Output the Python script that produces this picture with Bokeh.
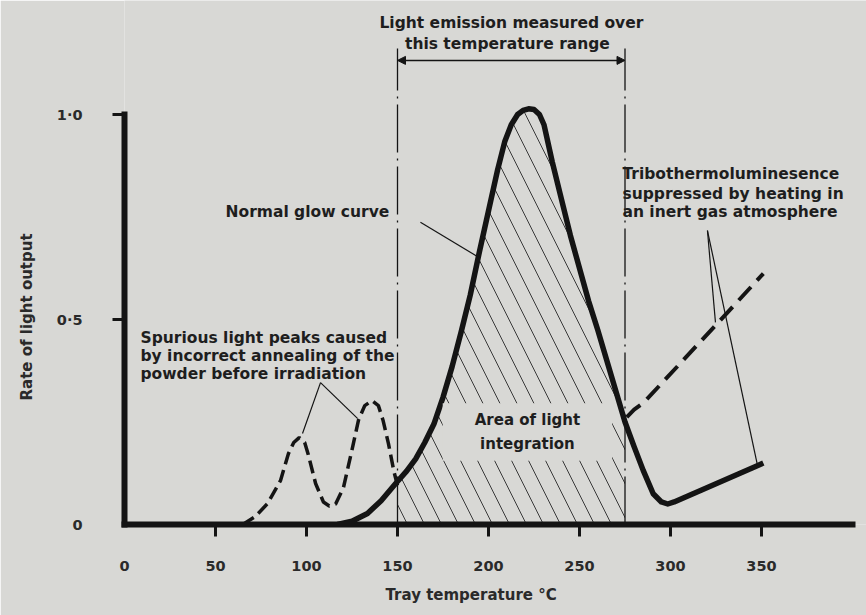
import numpy as np
from bokeh.plotting import figure
from bokeh.models import Range1d, FixedTicker, Label, Arrow, NormalHead, ColumnDataSource, Title
from bokeh.core.properties import value
from bokeh.embed import file_html
from bokeh.resources import INLINE

# ---------------- data ----------------
glow_temp = [117, 125, 133.5, 141, 149, 155, 160, 165, 170, 175, 180, 185, 190, 195, 200,
             205, 209, 212.5, 216, 219, 222, 225, 228, 230.5, 232.5, 235, 240, 245, 250,
             255, 260, 265, 270, 275, 280, 285, 290.5, 295, 298.5, 302, 348, 351]
glow_rate = [0.0, 0.008, 0.027, 0.058, 0.1, 0.13, 0.16, 0.2, 0.245, 0.31, 0.385, 0.47, 0.56,
             0.665, 0.765, 0.865, 0.935, 0.975, 1.0, 1.01, 1.014, 1.012, 1.0, 0.975, 0.935,
             0.885, 0.795, 0.705, 0.625, 0.545, 0.475, 0.4, 0.325, 0.25, 0.19, 0.132, 0.075,
             0.055, 0.05, 0.055, 0.144, 0.15]

spur_temp = [65, 72, 78.6, 85.7, 90.1, 93, 96, 99, 101, 105, 109.3, 112.5, 116, 120.3,
             125.3, 128.6, 132, 136, 139.5, 142, 145, 148, 150]
spur_rate = [0.0, 0.02, 0.051, 0.107, 0.173, 0.2, 0.212, 0.2, 0.17, 0.1, 0.055, 0.045,
             0.05, 0.09, 0.188, 0.255, 0.29, 0.302, 0.29, 0.255, 0.198, 0.13, 0.095]

tribo_temp = [276, 280, 285, 323.6, 351]
tribo_rate = [0.262, 0.28, 0.296, 0.48, 0.612]

range_start, range_end = 150, 275

x_ticks = [0, 50, 100, 150, 200, 250, 300, 350]
x_tick_labels = ["0", "50", "100", "150", "200", "250", "300", "350"]
y_ticks = [0, 0.5, 1.0]
y_tick_labels = ["0", "0\u00b75", "1\u00b70"]

x_title = "Tray temperature \u00b0C"
y_title = "Rate of light output"

note_text = ["Light emission measured over", "this temperature range",
             "Normal glow curve",
             "Tribothermoluminesence", "suppressed by heating in", "an inert gas atmosphere",
             "Spurious light peaks caused", "by incorrect annealing of the",
             "powder before irradiation"]

# ---------------- annotation placement ----------------
note_x = [212.6, 210.4, 55.5, 273.6, 273.6, 273.6, 8.8, 8.8, 8.8]
note_y = [1.224, 1.173, 0.761, 0.856, 0.807, 0.762, 0.456, 0.412, 0.368]
note_align = ["center", "center", "left", "left", "left", "left", "left", "left", "left"]

leader_xs = [[162.6, 194.5], [107.7, 97.8], [107.7, 128.0], [320.3, 324.7], [320.3, 347.8]]
leader_ys = [[0.737, 0.652], [0.346, 0.222], [0.346, 0.259], [0.717, 0.493], [0.717, 0.144]]

BG = "#d8d8d5"
INK = "#141414"
TXT = "#1e1e1e"
FONT = "DejaVu Sans"
W, H = 866, 615
LEFT, BOTTOM = 124, 91
PX_X, PX_Y = 1.82, 410.0

p = figure(width=W, height=H, output_backend="svg", toolbar_location=None,
           x_range=Range1d(0, (W - LEFT) / PX_X), y_range=Range1d(0, (H - BOTTOM) / PX_Y),
           min_border_left=LEFT, min_border_right=0, min_border_top=0, min_border_bottom=BOTTOM)
p.background_fill_color = BG
p.border_fill_color = BG
p.outline_line_color = None
p.grid.visible = False

# hatched integration area (under the glow curve between the two limits)
gt = np.array(glow_temp, dtype=float)
gr = np.array(glow_rate, dtype=float)
inside = (gt > range_start) & (gt < range_end)
ax = np.concatenate([[range_start], gt[inside], [range_end]])
ay = np.concatenate([[np.interp(range_start, gt, gr)], gr[inside], [np.interp(range_end, gt, gr)]])
p.varea(x=ax, y1=np.zeros_like(ax), y2=ay, fill_color=None, fill_alpha=0,
        hatch_pattern="\\", hatch_scale=34, hatch_weight=1, hatch_color="#3a3a3a")

# range limit lines (dash-dot)
p.segment(x0=[range_start, range_end], y0=[0, 0], x1=[range_start, range_end], y1=[1.161, 1.161],
          line_color=INK, line_width=1.3, line_dash="48 6 2 6")

# curves
p.line(spur_temp, spur_rate, line_color=INK, line_width=3.5, line_dash="13 6")
p.line(tribo_temp, tribo_rate, line_color=INK, line_width=4, line_dash="18 9")
p.line(glow_temp, glow_rate, line_color=INK, line_width=5.5, line_join="round")

# leader lines
p.multi_line(xs=leader_xs, ys=leader_ys, line_color=INK, line_width=1.2)

# arrow across the measured range
p.add_layout(Arrow(start=NormalHead(size=8, fill_color=INK, line_color=INK),
                   end=NormalHead(size=8, fill_color=INK, line_color=INK),
                   x_start=range_start, y_start=1.132, x_end=range_end, y_end=1.132,
                   line_color=INK, line_width=1.5))

# notes
src = ColumnDataSource(dict(x=note_x, y=note_y, text=note_text, align=note_align))
p.text(x="x", y="y", text="text", text_align="align", source=src,
       text_baseline="middle", text_font=value(FONT), text_font_style="bold",
       text_font_size="15.5px", text_color=TXT)

p.add_layout(Label(x=221.4, y=0.2255, text="Area of light\nintegration",
                   text_align="center", text_baseline="middle",
                   text_font=FONT, text_font_style="bold", text_font_size="15px",
                   text_color=TXT, text_line_height=1.3,
                   background_fill_color=BG, padding=(32, 8)))

# axis titles as side-panel titles (allow exact placement along the axis)
p.add_layout(Title(text=x_title, align="left", offset=261, standoff=20,
                   text_font=FONT, text_font_style="bold", text_font_size="15px",
                   text_color="#2a2a2a"), "below")
p.add_layout(Title(text=y_title, align="left", offset=124, standoff=31, vertical_align="top",
                   text_font=FONT, text_font_style="bold", text_font_size="15px",
                   text_color="#2a2a2a"), "left")

# axes
for axis, ticks, labels, bnd, standoff in [
        (p.xaxis[0], x_ticks, x_tick_labels, (0, 400), 24),
        (p.yaxis[0], y_ticks, y_tick_labels, (0, 1.0), 30)]:
    axis.ticker = FixedTicker(ticks=ticks, minor_ticks=ticks[1:])
    axis.major_label_overrides = {t: l for t, l in zip(ticks, labels)}
    axis.bounds = bnd
    axis.axis_line_width = 6
    axis.axis_line_color = INK
    axis.axis_line_cap = "square"
    axis.major_tick_line_color = None
    axis.major_tick_out = 12
    axis.major_tick_in = 0
    axis.minor_tick_line_color = INK
    axis.minor_tick_line_width = 3
    axis.minor_tick_out = 12
    axis.minor_tick_in = 0
    axis.major_label_standoff = standoff
    axis.major_label_text_font = FONT
    axis.major_label_text_font_style = "bold"
    axis.major_label_text_font_size = "14.5px"
    axis.major_label_text_color = "#2a2a2a"

open("out.html", "w").write(file_html(p, INLINE))
